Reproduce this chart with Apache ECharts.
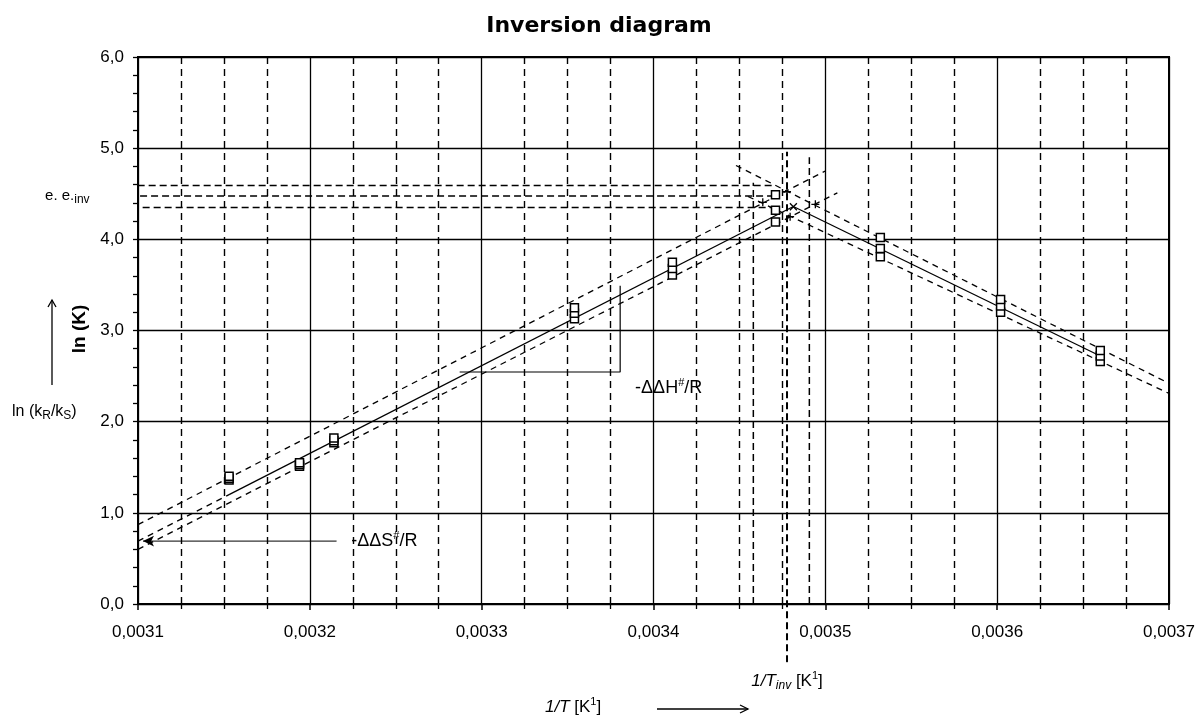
<!DOCTYPE html>
<html>
<head>
<meta charset="utf-8">
<title>Inversion diagram</title>
<script src="https://cdn.jsdelivr.net/npm/echarts@6.0.0/dist/echarts.min.js"></script>
<style>
  html, body { margin: 0; padding: 0; background: #fff; }
  #chart { width: 1198px; height: 717px; }
</style>
</head>
<body>
<div id="chart"></div>
<script>
// measured points: 1/T [K^-1] and ln(K), three values per temperature
const invT = [0.003153, 0.003194, 0.003214, 0.003354, 0.003411, 0.003471, 0.003532, 0.003602, 0.003660];
const lnKHigh = [1.40, 1.55, 1.82, 3.25, 3.75, 4.49, 4.02, 3.34, 2.78];
const lnKMid = [1.38, 1.53, 1.79, 3.19, 3.68, 4.32, 3.90, 3.27, 2.72];
const lnKLow = [1.36, 1.51, 1.77, 3.13, 3.61, 4.19, 3.81, 3.20, 2.66];

// intersections of the fitted lines
const plusX = [0.0034636, 0.0034777, 0.0034795, 0.0034942];
const plusY = [4.406, 4.522, 4.248, 4.384];
const crossX = [0.0034814];
const crossY = [4.358];

// fitted lines (end points)
const upperLeftX = [0.0031, 0.0035];
const upperLeftY = [0.87, 4.75];
const lowerLeftX = [0.0031, 0.003507];
const lowerLeftY = [0.60, 4.51];
const midLeftExtX = [0.0031, 0.003153];
const midLeftExtY = [0.69, 1.20];
const midLeftX = [0.003153, 0.0034814];
const midLeftY = [1.20, 4.36];
const upperRightX = [0.003448, 0.0037];
const upperRightY = [4.81, 2.42];
const lowerRightX = [0.003455, 0.0037];
const lowerRightY = [4.47, 2.31];
const midRightX = [0.0034814, 0.00366];
const midRightY = [4.36, 2.72];

// e.e. inversion levels
const eeLevels = [4.59, 4.475, 4.35];
const eeStartX = [0.0030934, 0.0030884, 0.0030963];
const eeEndX = [0.003469, 0.003472, 0.003469];

// vertical guide lines (1/T_inv and its limits)
const vLineX = [0.0034581, 0.0034777, 0.0034907];
const vLineLow = [0, -0.64, 0];
const vLineHigh = [4.62, 4.96, 4.90];

// annotation anchors
const dSArrowX = [0.0032157, 0.0031029];
const dSArrowY = [0.69, 0.69];
const dHBracketX = [0.0032872, 0.0033806, 0.0033806];
const dHBracketY = [2.545, 2.545, 3.49];
const dHTextPos = [0.003389, 2.37];

function pts(xs, ys) {
  return xs.map((x, i) => [x, ys[i]]);
}

const dashLine = [6, 5];

function line(data, type, width) {
  return {
    type: "line",
    data: data,
    symbol: "none",
    showSymbol: false,
    clip: false,
    silent: true,
    z: 3,
    lineStyle: { color: "#000", width: width, type: type },
  };
}

function squares(ys) {
  return {
    type: "scatter",
    data: pts(invT, ys),
    symbol: "rect",
    symbolSize: 8,
    z: 5,
    itemStyle: { color: "#fff", borderColor: "#000", borderWidth: 1.5, opacity: 1 },
  };
}

function labelPoint(pos, label) {
  return {
    type: "scatter",
    data: [{ value: pos, label: label }],
    symbolSize: 1,
    clip: false,
    silent: true,
    z: 6,
    itemStyle: { color: "#fff", opacity: 1 },
  };
}

const annoFont = "Liberation Sans";
const txt = { color: "#000", fontFamily: annoFont };
const supStyle = { fontSize: 11, fontFamily: annoFont, color: "#000", padding: [0, 0, 10, 0] };

const series = [];

// e.e. levels
eeLevels.forEach((lv, i) => {
  series.push(line([[eeStartX[i], lv], [eeEndX[i], lv]], [7, 4], 1.5));
});

// vertical guides
vLineX.forEach((x, i) => {
  series.push(line([[x, vLineLow[i]], [x, vLineHigh[i]]], [7, 4], i === 1 ? 2 : 1.5));
});

// fitted lines
series.push(line(pts(upperLeftX, upperLeftY), dashLine, 1.3));
series.push(line(pts(lowerLeftX, lowerLeftY), dashLine, 1.3));
series.push(line(pts(midLeftExtX, midLeftExtY), dashLine, 1.3));
series.push(line(pts(midLeftX, midLeftY), "solid", 1.3));
series.push(line(pts(upperRightX, upperRightY), dashLine, 1.3));
series.push(line(pts(lowerRightX, lowerRightY), dashLine, 1.3));
series.push(line(pts(midRightX, midRightY), "solid", 1.3));

// -ΔΔH#/R slope bracket
series.push(line(pts(dHBracketX, dHBracketY), "solid", 1.2));

// -ΔΔS#/R arrow
series.push({
  type: "line",
  data: [
    { value: [dSArrowX[0], dSArrowY[0]], symbol: "none" },
    { value: [dSArrowX[1], dSArrowY[1]], symbol: "arrow", symbolSize: [8, 11], symbolRotate: 90 },
  ],
  showSymbol: true,
  clip: false,
  silent: true,
  z: 4,
  lineStyle: { color: "#000", width: 1 },
  itemStyle: { color: "#000", opacity: 1 },
});

// measured points, upper drawn last
series.push(squares(lnKLow));
series.push(squares(lnKMid));
series.push(squares(lnKHigh));

// intersections
series.push({
  type: "scatter",
  data: pts(plusX, plusY),
  symbol: "path://M0,5L10,5M5,0L5,10",
  symbolSize: 8,
  z: 6,
  itemStyle: { color: "none", borderColor: "#000", borderWidth: 1.3, opacity: 1 },
});
series.push({
  type: "scatter",
  data: pts(crossX, crossY),
  symbol: "path://M0,0L10,10M10,0L0,10",
  symbolSize: 7,
  z: 6,
  itemStyle: { color: "none", borderColor: "#000", borderWidth: 1.3, opacity: 1 },
});

// text annotations
series.push(labelPoint([dSArrowX[0], dSArrowY[0]], {
  show: true,
  position: "right",
  distance: 14,
  formatter: "{t|-ΔΔS}{sup|#}{t|/R}",
  fontSize: 18,
  fontFamily: annoFont,
  color: "#000",
  opacity: 1,
  rich: { t: Object.assign({ fontSize: 18 }, txt), sup: supStyle },
}));
series.push(labelPoint(dHTextPos, {
  show: true,
  position: "right",
  distance: 0,
  formatter: "{t|-ΔΔH}{sup|#}{t|/R}",
  fontSize: 18,
  fontFamily: annoFont,
  color: "#000",
  opacity: 1,
  rich: { t: Object.assign({ fontSize: 18 }, txt), sup: supStyle },
}));
series.push(labelPoint([eeStartX[1], eeLevels[1]], {
  show: true,
  position: "left",
  distance: 28,
  formatter: "{t|e. e.}{sub|inv}",
  fontSize: 15,
  fontFamily: annoFont,
  color: "#000",
  opacity: 1,
  rich: {
    t: Object.assign({ fontSize: 15 }, txt),
    sub: { fontSize: 12, fontFamily: annoFont, color: "#000", padding: [8, 0, 0, 0] },
  },
}));
series.push(labelPoint([vLineX[1], vLineLow[1]], {
  show: true,
  position: "bottom",
  distance: 8,
  formatter: "{i|1/T}{isub|inv}{t| [K}{sup|1}{t|]}",
  fontSize: 17,
  fontFamily: annoFont,
  color: "#000",
  opacity: 1,
  rich: {
    t: Object.assign({ fontSize: 17 }, txt),
    i: { fontSize: 17, fontFamily: annoFont, fontStyle: "italic", color: "#000" },
    isub: { fontSize: 12, fontFamily: annoFont, fontStyle: "italic", color: "#000", padding: [8, 0, 0, 0] },
    sup: supStyle,
  },
}));

const chart = echarts.init(document.getElementById("chart"));
chart.setOption({
  animation: false,
  backgroundColor: "#fff",
  title: {
    text: "Inversion diagram",
    left: "center",
    top: 10,
    textStyle: { fontFamily: "DejaVu Sans", fontWeight: "bold", fontSize: 22, color: "#000" },
  },
  grid: {
    left: 138,
    right: 29,
    top: 57,
    bottom: 113,
    show: true,
    borderColor: "#000",
    borderWidth: 2,
  },
  xAxis: {
    type: "value",
    min: 0.0031,
    max: 0.0037,
    interval: 0.0001,
    axisLine: { lineStyle: { color: "#000", width: 1.5 } },
    axisTick: { show: true, length: 6, lineStyle: { color: "#000", width: 1.5 } },
    minorTick: { show: true, splitNumber: 4, length: 5, lineStyle: { color: "#000", width: 1.3 } },
    splitLine: { show: true, lineStyle: { color: "#000", width: 1.3 } },
    minorSplitLine: { show: true, lineStyle: { color: "#000", width: 1.4, type: [7, 5] } },
    axisLabel: {
      color: "#000",
      fontSize: 17,
      fontFamily: annoFont,
      margin: 20,
      formatter: (v) => v.toFixed(4).replace(".", ","),
    },
  },
  yAxis: {
    type: "value",
    min: 0,
    max: 6,
    interval: 1,
    axisLine: { show: true, lineStyle: { color: "#000", width: 1.5 } },
    axisTick: { show: true, length: 5, lineStyle: { color: "#000", width: 1.3 } },
    minorTick: { show: true, splitNumber: 5, length: 5, lineStyle: { color: "#000", width: 1.3 } },
    splitLine: { show: true, lineStyle: { color: "#000", width: 1.3 } },
    axisLabel: {
      color: "#000",
      fontSize: 17,
      fontFamily: annoFont,
      margin: 14,
      formatter: (v) => v.toFixed(1).replace(".", ","),
    },
  },
  graphic: [
    {
      type: "text",
      x: 80,
      y: 329,
      rotation: Math.PI / 2,
      style: {
        text: "ln (K)",
        font: "bold 19px Liberation Sans",
        fill: "#000",
        align: "center",
        verticalAlign: "middle",
      },
    },
    {
      type: "polyline",
      shape: { points: [[52, 385], [52, 300]] },
      style: { stroke: "#000", lineWidth: 1.3, fill: null },
    },
    {
      type: "polyline",
      shape: { points: [[48, 307], [52, 300], [56, 307]] },
      style: { stroke: "#000", lineWidth: 1.3, fill: null },
    },
    {
      type: "text",
      x: 12,
      y: 412,
      style: {
        text: "ln (k{sub|R}/k{sub|S})",
        font: "16px Liberation Sans",
        fill: "#000",
        verticalAlign: "middle",
        rich: { sub: { fontSize: 12, fontFamily: "Liberation Sans", fill: "#000", padding: [7, 0, 0, 0] } },
      },
    },
    {
      type: "text",
      x: 545,
      y: 707,
      style: {
        text: "{i|1/T} [K{sup|1}]",
        font: "17px Liberation Sans",
        fill: "#000",
        verticalAlign: "middle",
        rich: {
          i: { fontSize: 17, fontFamily: "Liberation Sans", fontStyle: "italic", fill: "#000" },
          sup: { fontSize: 11, fontFamily: "Liberation Sans", fill: "#000", padding: [0, 0, 10, 0] },
        },
      },
    },
    {
      type: "polyline",
      shape: { points: [[657, 709], [748, 709]] },
      style: { stroke: "#000", lineWidth: 1.3, fill: null },
    },
    {
      type: "polyline",
      shape: { points: [[740, 705], [748, 709], [740, 713]] },
      style: { stroke: "#000", lineWidth: 1.3, fill: null },
    },
  ],
  series: series,
});
</script>
</body>
</html>
